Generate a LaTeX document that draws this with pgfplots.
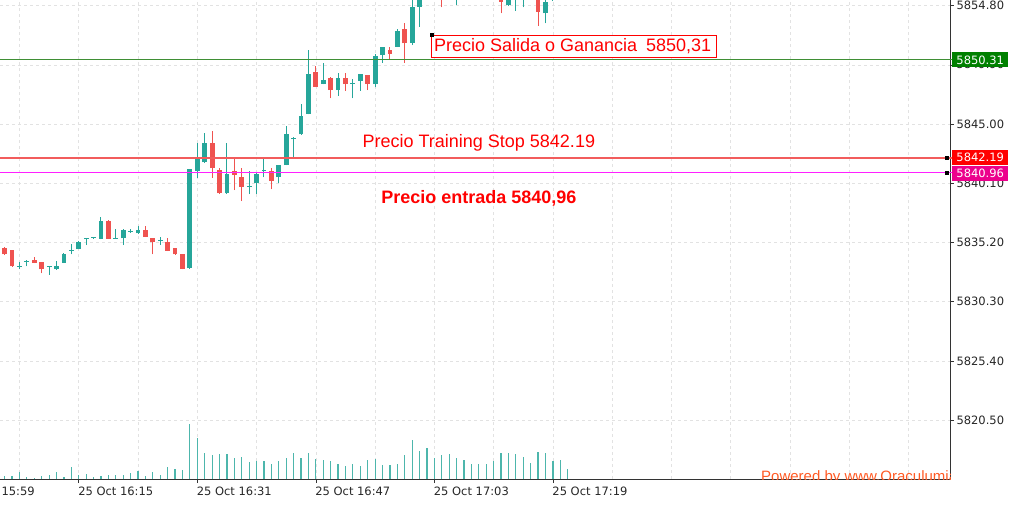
\documentclass[border=0pt]{standalone}
\usepackage{pgfplots}
\usepackage{pgfplotstable}
\pgfplotsset{compat=1.18}
\usepackage{fontspec}
\setmainfont{DejaVu Sans}
\newfontfamily\arial{Liberation Sans}
\definecolor{up}{HTML}{26A69A}
\definecolor{dn}{HTML}{EF5350}
\definecolor{volc}{HTML}{4DB6AC}
\definecolor{gline}{HTML}{3F8F35}
\definecolor{gbox}{HTML}{008000}
\definecolor{rline}{HTML}{F25C5C}
\definecolor{mline}{HTML}{FF20FF}
\definecolor{pow}{HTML}{FF5A24}
\definecolor{gridc}{HTML}{E2E2E2}
\definecolor{boxred}{HTML}{FF0000}

\pgfplotstableread{
x o h l c
-8 5833.19 5833.59 5832.98 5833.27
-7 5833.57 5833.75 5833.23 5833.65
-4 5833.16 5833.24 5832.54 5833.24
-3 5832.98 5833.69 5832.95 5833.25
-2 5833.53 5834.30 5833.50 5834.27
-1 5834.54 5835.05 5834.22 5834.62
0 5834.66 5835.30 5834.63 5835.27
1 5835.47 5835.56 5834.99 5835.55
2 5835.59 5835.68 5835.51 5835.67
3 5835.51 5837.28 5835.48 5837.00
5 5835.51 5836.29 5835.50 5835.59
6 5835.55 5836.29 5834.99 5836.23
7 5836.11 5836.29 5836.01 5836.19
8 5835.96 5836.56 5835.93 5836.23
11 5835.37 5835.68 5834.99 5835.45
15 5833.06 5841.28 5833.03 5841.25
16 5841.14 5843.40 5840.56 5842.16
17 5841.83 5844.23 5841.80 5843.40
20 5839.27 5843.40 5839.24 5840.86
23 5839.83 5841.14 5839.21 5839.91
24 5840.14 5840.97 5839.21 5840.84
25 5841.16 5842.30 5840.59 5841.24
27 5840.59 5841.64 5840.14 5841.61
28 5841.61 5844.83 5841.58 5844.15
29 5843.74 5843.95 5842.25 5843.82
30 5844.15 5846.65 5844.12 5845.66
31 5845.83 5851.12 5845.80 5849.14
33 5848.31 5850.07 5848.28 5848.64
35 5847.81 5849.19 5847.32 5848.83
37 5848.33 5848.70 5847.13 5848.41
38 5848.58 5849.14 5847.75 5849.11
40 5848.31 5850.79 5848.04 5850.62
41 5850.71 5851.37 5850.07 5851.34
43 5851.39 5852.83 5851.36 5852.69
45 5851.72 5855.50 5851.53 5854.65
46 5854.70 5856.30 5853.05 5856.00
47 5856.00 5857.00 5855.60 5856.80
50 5855.80 5856.90 5855.50 5856.50
51 5856.30 5857.20 5854.84 5856.90
53 5856.20 5857.10 5855.70 5856.80
55 5856.40 5857.20 5855.90 5856.90
58 5854.84 5856.40 5854.80 5856.00
59 5855.80 5856.70 5854.37 5856.40
60 5855.70 5856.50 5854.65 5856.10
63 5854.16 5855.50 5853.33 5855.12
64 5855.60 5856.30 5855.17 5856.00
66 5856.00 5856.60 5855.60 5856.40
}\upT

\pgfplotstableread{
x o h l c
-10 5834.72 5834.79 5834.16 5834.22
-9 5834.58 5834.60 5833.20 5833.23
-6 5833.73 5834.02 5833.50 5833.53
-5 5833.56 5833.60 5832.65 5832.98
4 5837.00 5837.03 5835.48 5835.51
9 5836.23 5836.56 5835.65 5835.68
10 5835.55 5835.58 5834.22 5835.22
12 5835.26 5835.55 5834.49 5834.52
13 5834.72 5834.75 5834.19 5834.22
14 5834.25 5834.28 5832.98 5833.01
18 5843.40 5844.42 5840.56 5841.34
19 5841.20 5841.39 5839.24 5839.27
21 5841.14 5842.16 5839.54 5840.78
22 5840.64 5841.34 5838.63 5839.81
26 5841.14 5841.34 5839.60 5840.31
32 5849.33 5849.80 5848.06 5848.09
34 5848.83 5848.86 5847.13 5847.81
36 5848.83 5849.19 5847.75 5848.31
39 5849.05 5849.08 5847.81 5848.31
42 5851.12 5851.39 5850.35 5850.79
44 5852.86 5853.38 5850.07 5851.67
48 5856.80 5857.20 5855.80 5856.40
49 5856.60 5857.00 5854.65 5855.80
52 5856.90 5857.30 5856.00 5856.20
54 5856.80 5857.10 5856.00 5856.40
56 5856.90 5857.20 5856.10 5856.30
57 5856.20 5856.60 5854.16 5855.12
61 5856.10 5856.50 5855.50 5855.70
62 5855.60 5855.90 5853.11 5854.29
65 5856.40 5856.80 5855.70 5856.00
}\dnT

\pgfplotstableread{
x v
-10 10
-9 10
-8 21
-7 6
-6 4
-5 10
-4 13
-3 21
-2 6
-1 37
0 13
1 16
2 7
3 10
4 13
5 13
6 13
7 18
8 24
9 10
10 21
11 13
12 37
13 31
14 27
15 166
16 124
17 79
18 71
19 76
20 74
21 63
22 66
23 52
24 55
25 55
26 46
27 55
28 63
29 77
30 63
31 79
32 59
33 57
34 55
35 46
36 38
37 46
38 38
39 57
40 60
41 41
42 41
43 44
44 71
45 118
46 85
47 93
48 63
49 71
50 74
51 63
52 57
53 44
54 46
55 46
56 55
57 79
58 79
59 74
60 66
61 49
62 82
63 79
64 55
65 57
66 29
}\volT

\begin{document}
\begin{tikzpicture}[x=1pt,y=1pt]
% main
\begin{axis}[name=main, at={(0pt,25pt)}, anchor=south west, scale only axis,
  width=950pt, height=479pt,
  xmin=-10.63, xmax=117.6, ymin=5815.64, ymax=5855.26,
  axis x line*=bottom, axis y line*=right,
  axis line style={draw=black!80, line width=0.8pt},
  xtick={0,16,32,48,64},
  xticklabels={25 Oct 16:15,25 Oct 16:31,25 Oct 16:47,25 Oct 17:03,25 Oct 17:19},
  minor xtick={-8,8,24,40,56,72,80,88,96,104,112},
  ytick={5820.5,5825.4,5830.3,5835.2,5840.1,5845.0,5849.9,5854.8},
  yticklabels={5820.50,5825.40,5830.30,5835.20,5840.10,5845.00,5849.90,5854.80},
  xmajorgrids, xminorgrids, ymajorgrids,
  major grid style={draw=gridc, dash pattern=on 3pt off 3pt, line width=0.6pt},
  minor grid style={draw=gridc, dash pattern=on 3pt off 3pt, line width=0.6pt},
  tick align=outside, major tick length=4pt, minor tick length=0pt,
  tick style={draw=black!80, line width=0.6pt},
  xticklabel style={anchor=north west, xshift=-4pt, font=\fontsize{11.5}{13}\selectfont, text=black!85},
  yticklabel style={anchor=west, xshift=-1pt, font=\fontsize{11.5}{13}\selectfont, text=black!85},
]
% wicks
\addplot[draw=none, mark=none, forget plot,
  error bars/.cd, y dir=plus, y explicit, error mark=none,
  error bar style={draw=up, line width=1pt}]
  table[x=x, y=l, y error expr=\thisrow{h}-\thisrow{l}] {\upT};
\addplot[draw=none, mark=none, forget plot,
  error bars/.cd, y dir=plus, y explicit, error mark=none,
  error bar style={draw=dn, line width=1pt}]
  table[x=x, y=l, y error expr=\thisrow{h}-\thisrow{l}] {\dnT};
% bodies
\addplot[draw=none, mark=none, forget plot,
  error bars/.cd, y dir=plus, y explicit, error mark=none,
  error bar style={draw=up, line width=4.8pt}]
  table[x=x, y=o, y error expr=\thisrow{c}-\thisrow{o}] {\upT};
\addplot[draw=none, mark=none, forget plot,
  error bars/.cd, y dir=plus, y explicit, error mark=none,
  error bar style={draw=dn, line width=4.8pt}]
  table[x=x, y=c, y error expr=\thisrow{o}-\thisrow{c}] {\dnT};
% level lines
\addplot[draw=gline, line width=0.8pt, mark=none] coordinates {(-12,5850.31) (120,5850.31)};
\addplot[draw=rline, line width=1.3pt, mark=none] coordinates {(-12,5842.19) (120,5842.19)};
\addplot[draw=mline, line width=1pt, mark=none] coordinates {(-12,5840.96) (120,5840.96)};
% annotations
\node[text=red, font=\arial\fontsize{18}{20}\selectfont] at (axis cs:54.0,5843.43) {Precio Training Stop 5842.19};
\node[text=red, font=\arial\bfseries\fontsize{18}{20}\selectfont] at (axis cs:54.0,5838.88) {Precio entrada 5840,96};
\coordinate (salnw) at (axis cs:47.66,5852.36);
\coordinate (gl) at (axis cs:117.6,5850.31);
\coordinate (rl) at (axis cs:117.6,5842.19);
\coordinate (ml) at (axis cs:117.6,5840.96);
\coordinate (t1559) at (axis cs:-16,5815.64);
\end{axis}
% volume (drawn over the grid)
\begin{axis}[name=vol, at={(0pt,25pt)}, anchor=south west, scale only axis,
  width=950pt, height=479pt, xmin=-10.63, xmax=117.6, ymin=0, ymax=1437,
  axis lines=none, ticks=none]
\addplot[ycomb, draw=volc, line width=1.2pt, mark=none] table[x=x,y=v] {\volT};
\end{axis}
% exit-price box
\filldraw[fill=white, draw=boxred, line width=0.8pt] (salnw) rectangle ++(285pt,-22pt);
\node[anchor=west, inner sep=0pt, text=boxred, font=\arial\fontsize{18}{20}\selectfont]
  at ([xshift=2pt,yshift=-11.5pt]salnw) {Precio Salida o Ganancia\hspace{9pt}5850,31};
\fill[black] ([xshift=-2pt,yshift=-2pt]salnw) rectangle ([xshift=2pt,yshift=2pt]salnw);
% right price tags
\draw[gline, line width=0.8pt] (gl) -- ++(3pt,0);
\draw[rline, line width=1.3pt] (rl) -- ++(3pt,0);
\draw[mline, line width=1pt] (ml) -- ++(3pt,0);
\node[fill=gbox, text=white, anchor=west, minimum width=56pt, minimum height=15pt, inner sep=0pt, font=\fontsize{11.5}{13}\selectfont] at ([xshift=2pt]gl) {5850.31};
\node[fill=red, text=white, anchor=west, minimum width=56pt, minimum height=15pt, inner sep=0pt, font=\fontsize{11.5}{13}\selectfont] at ([xshift=2pt,yshift=0.5pt]rl) {5842.19};
\node[fill=magenta, text=white, anchor=west, minimum width=56pt, minimum height=15pt, inner sep=0pt, font=\fontsize{11.5}{13}\selectfont] at ([xshift=2pt,yshift=-0.5pt]ml) {5840.96};
\fill[black] ([xshift=-5pt,yshift=-2pt]rl) rectangle ([xshift=-1pt,yshift=2pt]rl);
\fill[black] ([xshift=-5pt,yshift=-2pt]ml) rectangle ([xshift=-1pt,yshift=2pt]ml);
% 15:59 label (partially off-page)
\node[anchor=north west, inner sep=0.333em, yshift=-4pt, xshift=-4pt, font=\fontsize{11.5}{13}\selectfont, text=black!85] at (t1559) {25 Oct 15:59};
% powered by
\begin{scope}
\clip (0,25) rectangle (950,504);
\node[anchor=base west, inner sep=0pt, text=pow, font=\arial\fontsize{15}{17}\selectfont] at (761,23) {Powered by www.Oraculumia.com};
\end{scope}
\pgfresetboundingbox
\path[use as bounding box] (0,0) rectangle (1024,504);
\end{tikzpicture}
\end{document}
